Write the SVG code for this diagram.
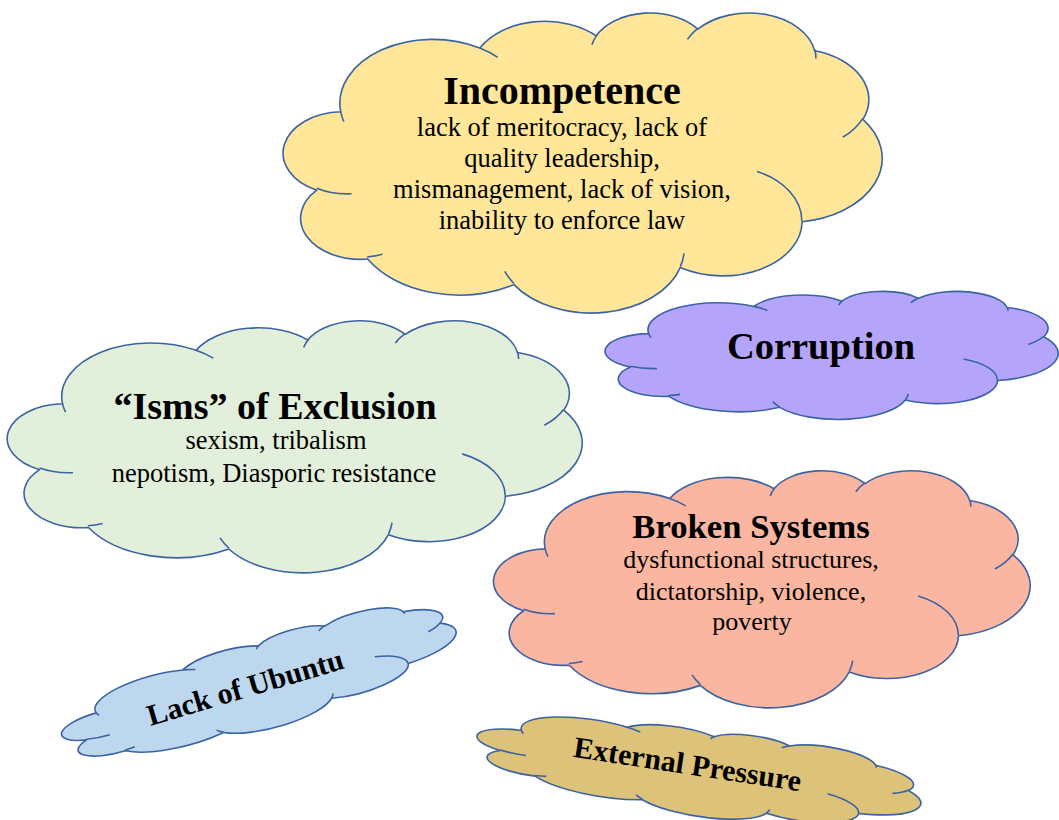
<svg xmlns="http://www.w3.org/2000/svg" xmlns:xlink="http://www.w3.org/1999/xlink" width="1059" height="820" viewBox="0 0 1059 820">
<style>
.body{stroke:#3B63A3;stroke-width:1.6;stroke-linejoin:round}
.crease{fill:none;stroke:#3B63A3;stroke-width:1.6}
.t{font-family:"Liberation Serif","Times New Roman",serif;font-weight:bold;fill:#000;text-anchor:middle}
.b{font-family:"Liberation Serif","Times New Roman",serif;fill:#000;text-anchor:middle;font-size:26.5px}
</style>
<defs>
<path id="cb" vector-effect="non-scaling-stroke" d="M39,143.7 A67.53,91.9 0 0 1 140.03,52 A53.33,72.67 0 0 1 224.52,34.28 A43.65,59.45 0 0 1 298.29,24.77 A48.57,65.95 0 0 1 383.14,55.72 A53.33,72.73 0 0 1 418.14,154.56 A67.75,92.2 0 0 1 374.01,302 A57.85,78.67 0 0 1 285.52,368.1 A67.52,92.15 0 0 1 164.76,392.59 A77.2,105.43 0 0 1 58.56,355.79 A43.6,59.18 0 0 1 21.62,256.6 A43.45,59.45 0 0 1 39,143.7Z"/>
<path id="cc" vector-effect="non-scaling-stroke" d="M46.93,261.77 A43.45,59.45 0 0 1 21.6,253.8 M69.28,348.99 A43.6,59.18 0 0 1 58.21,352.8 M164.78,390.9 A67.52,92.15 0 0 1 158.11,373.51 M288.27,347.51 A67.52,92.15 0 0 1 285.6,366.6 M341.29,229.54 A57.85,78.67 0 0 1 373.78,300.88 M417.98,153.54 A53.33,72.73 0 0 1 403.49,180.32 M383.24,54.26 A48.57,65.95 0 0 1 384,66.89 M290.78,39.52 A48.57,65.95 0 0 1 298.19,23.41 M221.41,47.2 A43.65,59.45 0 0 1 225,33.29 M140,51.92 A67.53,91.9 0 0 1 153.03,65.43 M41.27,157.89 A67.53,91.9 0 0 1 39,143.7"/>
</defs>

<g id="incompetence">
<g transform="translate(287,12) scale(1.3773,0.6944)">
<use href="#cb" class="body" fill="#FFE699"/>
<use href="#cc" class="crease"/>
</g>
<text class="t" x="562" y="104" font-size="40">Incompetence</text>
<text class="b" x="562" y="136">lack of meritocracy, lack of</text>
<text class="b" x="562" y="167">quality leadership,</text>
<text class="b" x="562" y="198">mismanagement, lack of vision,</text>
<text class="b" x="562" y="229">inability to enforce law</text>
</g>

<g id="corruption">
<g transform="translate(608,291) scale(1.0417,0.2963)">
<use href="#cb" class="body" fill="#B4A5FA"/>
<use href="#cc" class="crease"/>
</g>
<text class="t" x="821" y="359" font-size="38.5">Corruption</text>
</g>

<g id="isms">
<g transform="translate(11,320) scale(1.3218,0.5833)">
<use href="#cb" class="body" fill="#E2EFDA"/>
<use href="#cc" class="crease"/>
</g>
<text class="t" x="275" y="419" font-size="38">“Isms” of Exclusion</text>
<text class="b" x="276" y="449">sexism, tribalism</text>
<text class="b" x="274" y="482">nepotism, Diasporic resistance</text>
</g>

<g id="broken-systems">
<g transform="translate(497,470) scale(1.2338,0.5486)">
<use href="#cb" class="body" fill="#FAB6A0"/>
<use href="#cc" class="crease"/>
</g>
<text class="t" x="751" y="538" font-size="34.7">Broken Systems</text>
<text class="b" x="751" y="568" style="font-size:26px">dysfunctional structures,</text>
<text class="b" x="751" y="600" style="font-size:26px">dictatorship, violence,</text>
<text class="b" x="752" y="630" style="font-size:26px">poverty</text>
</g>

<g id="lack-of-ubuntu">
<g transform="rotate(-15 260.5 684.5) translate(58,639.5) scale(0.9375,0.2083)">
<use href="#cb" class="body" fill="#BDD7EE"/>
<use href="#cc" class="crease"/>
</g>
<text class="t" x="248" y="697" font-size="30" transform="rotate(-16.5 248 697)">Lack of Ubuntu</text>
</g>

<g id="external-pressure">
<g transform="rotate(8.5 700 772) translate(477,728) scale(1.0324,0.2037)">
<use href="#cb" class="body" fill="#DDC27A"/>
<use href="#cc" class="crease"/>
</g>
<text class="t" x="686" y="774" font-size="30" transform="rotate(8.6 686 774)">External Pressure</text>
</g>

<g id="connectors"></g>
</svg>
